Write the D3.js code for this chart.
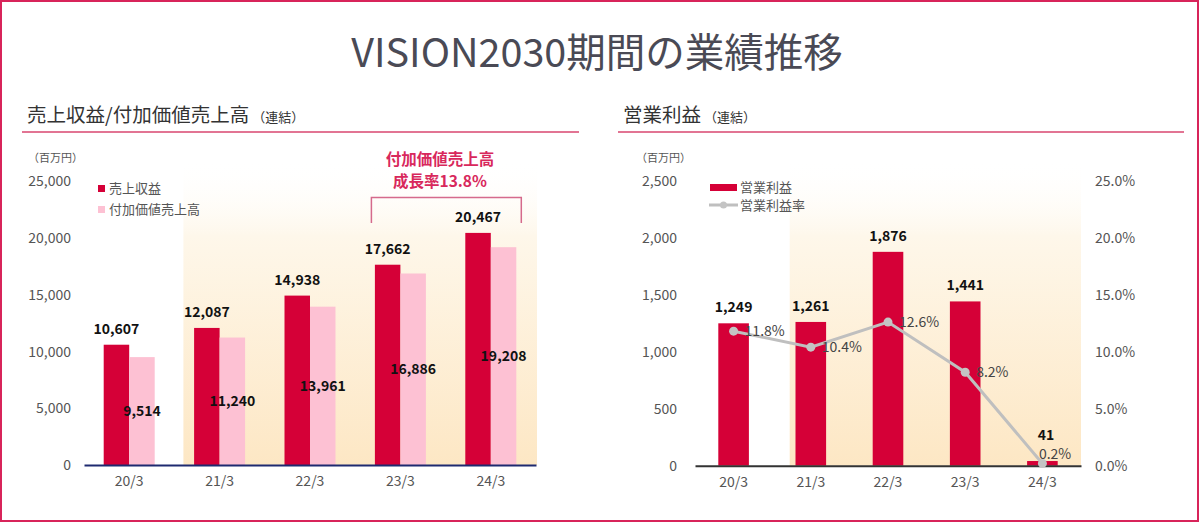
<!DOCTYPE html>
<html>
<head>
<meta charset="utf-8">
<script src="https://cdn.jsdelivr.net/npm/d3@7"></script>
<style>
  body { margin: 0; background: #fff; }
  text { font-family: "Noto Sans CJK JP", "Noto Sans", sans-serif; }
  .tick text { fill: #555; font-size: 14px; }
</style>
</head>
<body>
<script>
// chart data
var categories = ["20/3", "21/3", "22/3", "23/3", "24/3"];
var revenue = [10607, 12087, 14938, 17662, 20467];          // 売上収益
var valueAddedSales = [9514, 11240, 13961, 16886, 19208];   // 付加価値売上高
var operatingProfit = [1249, 1261, 1876, 1441, 41];         // 営業利益
var operatingMargin = [11.8, 10.4, 12.6, 8.2, 0.2];         // 営業利益率 (%)
var salesTicks = [0, 5000, 10000, 15000, 20000, 25000];
var profitTicks = [0, 500, 1000, 1500, 2000, 2500];
var marginTicks = [0, 5, 10, 15, 20, 25];

window.onload = function(){
    var w = 1200, h = 523;
    var red = "#D50037", pink = "#FDC1D3", grey = "#BFBFBF";

    var svg = d3.select("body").append("svg")
        .attr("width", w)
        .attr("height", h);

    // gradient used for the VISION2030 period shading
    var grad = svg.append("defs").append("linearGradient")
        .attr("id", "shade")
        .attr("gradientUnits", "userSpaceOnUse")
        .attr("x1", 0).attr("x2", 0).attr("y1", 160).attr("y2", 466);
    grad.append("stop").attr("offset", 0).attr("stop-color", "#FFFFFF").attr("stop-opacity", 0);
    grad.append("stop").attr("offset", 0.25).attr("stop-color", "#FEF7EA");
    grad.append("stop").attr("offset", 1).attr("stop-color", "#FDE7C4");

    // frame
    svg.append("rect")
        .attr("x", 1).attr("y", 1)
        .attr("width", w - 3).attr("height", h - 3)
        .style("fill", "none")
        .style("stroke", "#D8245A")
        .style("stroke-width", 2);

    // main title
    svg.append("text")
        .attr("x", 597).attr("y", 67)
        .attr("text-anchor", "middle")
        .style("font-size", "39.5px")
        .style("fill", "#4A4A55")
        .text("VISION2030期間の業績推移");

    // section headings with underline
    function heading(x, x2, main){
        var t = svg.append("text")
            .attr("x", x).attr("y", 122)
            .style("font-size", "19.5px")
            .style("fill", "#333");
        t.append("tspan").text(main);
        t.append("tspan").style("font-size", "13px").attr("dx", 3).text("（連結）");
        svg.append("line")
            .attr("x1", x - 5).attr("x2", x2)
            .attr("y1", 132).attr("y2", 132)
            .style("stroke", "#D9466F")
            .style("stroke-width", 1.6);
    }
    heading(27, 579, "売上収益/付加価値売上高");
    heading(623, 1184, "営業利益");

    var fmt = d3.format(",");

    // ---------------- left chart: revenue / value added sales ----------------
    var x0 = d3.scaleBand().domain(categories).range([84, 536]);
    var xSub = d3.scaleBand().domain(["rev", "vas"]).range([-25.5, 25.5]);
    var yL = d3.scaleLinear().domain([0, 25000]).range([465, 181.5]);
    var cx0 = function(c){ return x0(c) + x0.bandwidth() / 2; };

    svg.append("rect")
        .attr("x", x0("21/3") + 9)
        .attr("y", 160)
        .attr("width", 537 - x0("21/3") - 9)
        .attr("height", yL(0) - 160)
        .style("fill", "url(#shade)");

    svg.append("text")
        .attr("x", 28).attr("y", 162)
        .style("font-size", "11px").style("fill", "#555")
        .text("（百万円）");

    var leftAxis = svg.append("g")
        .attr("transform", "translate(84,0)")
        .call(d3.axisLeft(yL).tickValues(salesTicks).tickFormat(fmt).tickSize(0).tickPadding(13));
    leftAxis.select(".domain").remove();

    svg.selectAll(".revBar")
        .data(revenue)
        .enter().append("rect")
        .attr("class", "revBar")
        .attr("x", function(d, i){ return cx0(categories[i]) + xSub("rev"); })
        .attr("y", function(d){ return yL(d); })
        .attr("width", xSub.bandwidth())
        .attr("height", function(d){ return yL(0) - yL(d); })
        .style("fill", red);

    svg.selectAll(".vasBar")
        .data(valueAddedSales)
        .enter().append("rect")
        .attr("class", "vasBar")
        .attr("x", function(d, i){ return cx0(categories[i]) + xSub("vas"); })
        .attr("y", function(d){ return yL(d); })
        .attr("width", xSub.bandwidth())
        .attr("height", function(d){ return yL(0) - yL(d); })
        .style("fill", pink);

    var bottomL = svg.append("g")
        .attr("transform", "translate(0," + yL(0) + ")")
        .call(d3.axisBottom(x0).tickSize(0).tickSizeOuter(0).tickPadding(11));
    bottomL.select(".domain").style("stroke", "#1E2A70").style("stroke-width", 2);

    svg.selectAll(".revLabel")
        .data(revenue)
        .enter().append("text")
        .attr("class", "revLabel")
        .attr("text-anchor", "middle")
        .attr("x", function(d, i){ return cx0(categories[i]) + xSub("rev") + xSub.bandwidth() / 2; })
        .attr("y", function(d){ return yL(d) - 11; })
        .style("font-size", "14px").style("font-weight", "bold").style("fill", "#111")
        .text(function(d){ return fmt(d); });

    svg.selectAll(".vasLabel")
        .data(valueAddedSales)
        .enter().append("text")
        .attr("class", "vasLabel")
        .attr("text-anchor", "middle")
        .attr("x", function(d, i){ return cx0(categories[i]) + xSub("vas") + xSub.bandwidth() / 2; })
        .attr("y", function(d){ return (yL(d) + yL(0)) / 2 + 5; })
        .style("font-size", "14px").style("font-weight", "bold").style("fill", "#111")
        .text(function(d){ return fmt(d); });

    // legend
    var legL = [["売上収益", red], ["付加価値売上高", pink]];
    legL.forEach(function(d, i){
        svg.append("rect")
            .attr("x", 98).attr("y", 185 + i * 21)
            .attr("width", 7).attr("height", 7)
            .style("fill", d[1]);
        svg.append("text")
            .attr("x", 109).attr("y", 193 + i * 21)
            .style("font-size", "13px").style("fill", "#555")
            .text(d[0]);
    });

    // growth annotation + bracket
    svg.append("text")
        .attr("x", 440).attr("y", 165)
        .attr("text-anchor", "middle")
        .style("font-size", "15.5px").style("font-weight", "bold").style("fill", "#D8285C")
        .text("付加価値売上高");
    svg.append("text")
        .attr("x", 440).attr("y", 186.5)
        .attr("text-anchor", "middle")
        .style("font-size", "15.5px").style("font-weight", "bold").style("fill", "#D8285C")
        .text("成長率13.8%");
    var bx1 = cx0("23/3") + xSub("rev") - 3.5, bx2 = cx0("24/3") + xSub("vas") + xSub.bandwidth() + 5;
    svg.append("path")
        .attr("d", "M" + bx1 + ",223V197.5H" + bx2 + "V223")
        .style("fill", "none")
        .style("stroke", "#D56A8C")
        .style("stroke-width", 1.5);

    // ---------------- right chart: operating profit ----------------
    var xR = d3.scaleBand().domain(categories).range([695, 1081]);
    var yR = d3.scaleLinear().domain([0, 2500]).range([465.7, 180.7]);
    var yP = d3.scaleLinear().domain([0, 25]).range([465.7, 180.7]);
    var cxR = function(c){ return xR(c) + xR.bandwidth() / 2; };
    var barW = 30.6;

    svg.append("rect")
        .attr("x", xR("21/3") + 17.5)
        .attr("y", 160)
        .attr("width", 1081 - xR("21/3") - 17.5)
        .attr("height", yR(0) - 160)
        .style("fill", "url(#shade)");

    svg.append("text")
        .attr("x", 636).attr("y", 162)
        .style("font-size", "11px").style("fill", "#555")
        .text("（百万円）");

    var rl = svg.append("g")
        .attr("transform", "translate(695,0)")
        .call(d3.axisLeft(yR).tickValues(profitTicks).tickFormat(fmt).tickSize(0).tickPadding(18));
    rl.select(".domain").remove();

    var rr = svg.append("g")
        .attr("transform", "translate(1081,0)")
        .call(d3.axisRight(yP).tickValues(marginTicks).tickFormat(function(d){ return d.toFixed(1) + "%"; }).tickSize(0).tickPadding(14));
    rr.select(".domain").remove();

    svg.selectAll(".opBar")
        .data(operatingProfit)
        .enter().append("rect")
        .attr("class", "opBar")
        .attr("x", function(d, i){ return cxR(categories[i]) - barW / 2; })
        .attr("y", function(d){ return yR(d); })
        .attr("width", barW)
        .attr("height", function(d){ return yR(0) - yR(d); })
        .style("fill", red);

    var bottomR = svg.append("g")
        .attr("transform", "translate(0," + yR(0) + ")")
        .call(d3.axisBottom(xR).tickSize(0).tickSizeOuter(0).tickPadding(11));
    bottomR.select(".domain").style("stroke", "#333").style("stroke-width", 2);

    // margin line
    var line = d3.line()
        .x(function(d, i){ return cxR(categories[i]); })
        .y(function(d){ return yP(d); });
    svg.append("path")
        .datum(operatingMargin)
        .attr("d", line)
        .style("fill", "none")
        .style("stroke", grey)
        .style("stroke-width", 3);
    svg.selectAll(".marginDot")
        .data(operatingMargin)
        .enter().append("circle")
        .attr("class", "marginDot")
        .attr("cx", function(d, i){ return cxR(categories[i]); })
        .attr("cy", function(d){ return yP(d); })
        .attr("r", 4.5)
        .style("fill", "#C4C4C4");

    // small bar: lift the value label above the margin label
    svg.selectAll(".opLabel")
        .data(operatingProfit)
        .enter().append("text")
        .attr("class", "opLabel")
        .attr("text-anchor", "middle")
        .attr("x", function(d, i){ return cxR(categories[i]) + (operatingMargin[i] < 1 ? 3.5 : 0); })
        .attr("y", function(d, i){ return yR(d) - 11 - (operatingMargin[i] < 1 ? 10 : 0); })
        .style("font-size", "14px").style("font-weight", "bold").style("fill", "#111")
        .text(function(d){ return fmt(d); });

    svg.selectAll(".marginLabel")
        .data(operatingMargin)
        .enter().append("text")
        .attr("class", "marginLabel")
        .attr("x", function(d, i){ return cxR(categories[i]) + (d < 1 ? -3.5 : 11); })
        .attr("y", function(d){ return yP(d) + 5 - (d < 1 ? 9 : 0); })
        .style("font-size", "14px").style("fill", "#444")
        .text(function(d){ return d.toFixed(1) + "%"; });

    // legend
    svg.append("rect")
        .attr("x", 710).attr("y", 184)
        .attr("width", 27).attr("height", 7)
        .style("fill", red);
    svg.append("text")
        .attr("x", 740).attr("y", 192)
        .style("font-size", "13px").style("fill", "#555")
        .text("営業利益");
    svg.append("line")
        .attr("x1", 709).attr("x2", 738)
        .attr("y1", 205).attr("y2", 205)
        .style("stroke", grey).style("stroke-width", 3);
    svg.append("circle")
        .attr("cx", 723.5).attr("cy", 205).attr("r", 3.5)
        .style("fill", "#C4C4C4");
    svg.append("text")
        .attr("x", 740).attr("y", 210)
        .style("font-size", "13px").style("fill", "#555")
        .text("営業利益率");
};
</script>
</body>
</html>
